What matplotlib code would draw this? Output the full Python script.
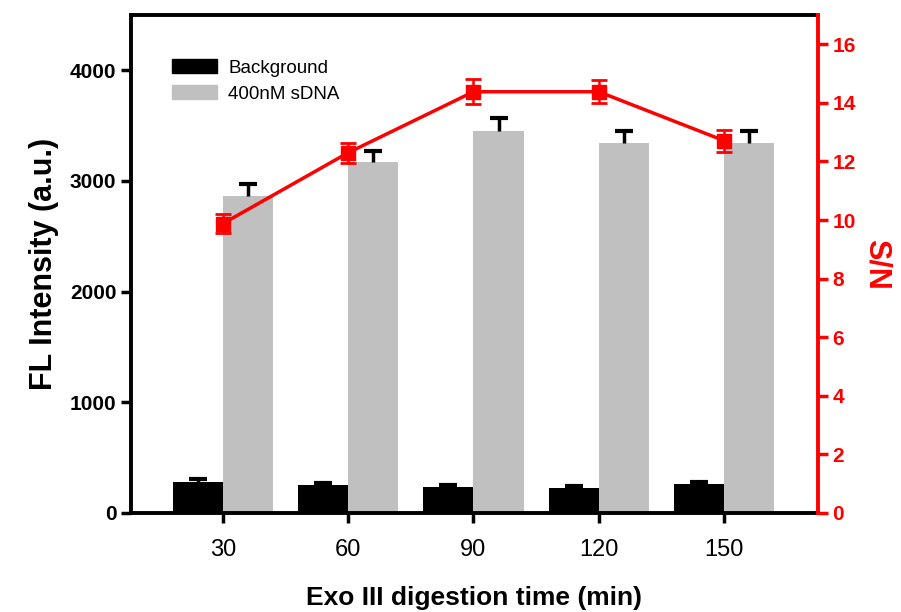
import matplotlib
matplotlib.use('Agg')
import matplotlib.pyplot as plt
import numpy as np
from matplotlib.patches import Patch

plt.rcParams['font.family'] = ['Liberation Sans', 'DejaVu Sans']

# data
times = ['30', '60', '90', '120', '150']
background = [283, 253, 235, 226, 262]
background_err = [27, 22, 20, 20, 22]
sdna = [2865, 3172, 3452, 3347, 3347]
sdna_err = [104, 98, 113, 102, 102]
sn_ratio = [9.88, 12.3, 14.38, 14.38, 12.71]
sn_err = [0.33, 0.34, 0.42, 0.4, 0.38]

x = np.arange(1, len(times) + 1)
width = 0.4

fig = plt.figure(figsize=(9.01, 6.12), dpi=100)
ax = fig.add_axes([131/901, 99/612, 687/901, 498/612])

ax.bar(x - width/2, background, width, color='black', zorder=2)
ax.bar(x + width/2, sdna, width, color='#c0c0c0', zorder=2)


# upper-only error bars ("T" shape) on the bars
def upper_err(xs, ys, errs):
    eb = ax.errorbar(xs, ys, yerr=[[0]*len(ys), errs], fmt='none',
                     ecolor='black', elinewidth=2.5, capsize=6.5, capthick=3,
                     zorder=3)
    eb.lines[1][0].set_visible(False)  # hide the lower caps


upper_err(x - width/2, background, background_err)
upper_err(x + width/2, sdna, sdna_err)

ax.set_xlim(0.266, 5.75)
ax.set_ylim(0, 4500)
ax.set_xticks(x)
ax.set_xticklabels(times, fontsize=17)
ax.set_yticks([0, 1000, 2000, 3000, 4000])
ax.set_yticklabels(['0', '1000', '2000', '3000', '4000'], fontsize=15, fontweight='bold')
ax.tick_params(axis='both', direction='out', length=7, width=2.5)
ax.tick_params(axis='x', pad=12)
ax.set_xlabel('Exo III digestion time (min)', fontsize=19, fontweight='bold', labelpad=18)
ax.set_ylabel('FL Intensity (a.u.)', fontsize=22, fontweight='bold', labelpad=8)
for side in ['left', 'top', 'bottom']:
    ax.spines[side].set_linewidth(2.8)
ax.spines['right'].set_visible(False)

legend_handles = [Patch(color='black', label='Background'),
                  Patch(color='#c0c0c0', label='400nM sDNA')]
ax.legend(handles=legend_handles, loc='upper left', bbox_to_anchor=(0.035, 0.945),
          frameon=False, fontsize=13.5, handlelength=2.4, handleheight=0.75,
          labelspacing=0.45, handletextpad=0.6)

ax2 = ax.twinx()
ax2.errorbar(x, sn_ratio, yerr=sn_err, color='red', lw=2.5, marker='s',
             markersize=10, ecolor='red', elinewidth=1.8, capsize=5.5, capthick=2)
ax2.set_ylim(0, 17)
ax2.set_yticks(range(0, 17, 2))
ax2.set_yticklabels([str(v) for v in range(0, 17, 2)], fontsize=15,
                    fontweight='bold', color='red')
ax2.tick_params(axis='y', direction='out', length=7, width=2.5, colors='red')
ax2.set_ylabel('S/N', fontsize=22, fontweight='bold', color='red',
               rotation=270, labelpad=26)
ax2.spines['right'].set_color('red')
ax2.spines['right'].set_linewidth(2.8)
for side in ['left', 'top', 'bottom']:
    ax2.spines[side].set_visible(False)

fig.savefig('out.png', dpi=100)
